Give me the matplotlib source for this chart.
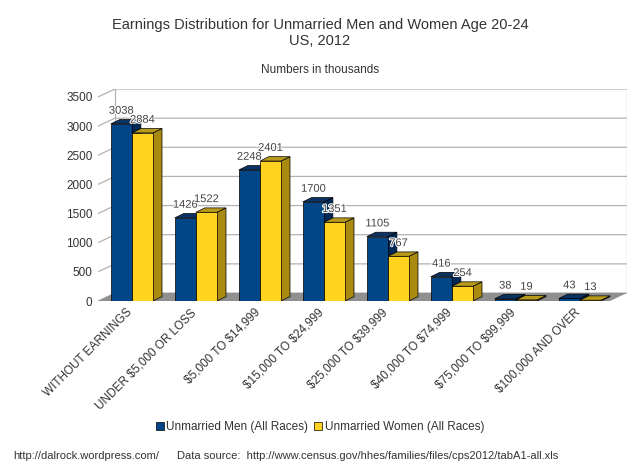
import matplotlib.pyplot as plt
import matplotlib.patheffects as pe
from matplotlib.patches import Polygon
import numpy as np

plt.rcParams['font.family'] = ['Liberation Sans', 'DejaVu Sans']
plt.rcParams['text.parse_math'] = False

categories = ['WITHOUT EARNINGS', 'UNDER $5,000 OR LOSS', '$5,000 TO $14,999',
              '$15,000 TO $24,999', '$25,000 TO $39,999', '$40,000 TO $74,999',
              '$75,000 TO $99,999', '$100,000 AND OVER']
men = [3038, 1426, 2248, 1700, 1105, 416, 38, 43]
women = [2884, 1522, 2401, 1351, 767, 254, 19, 13]
yticks = [0, 500, 1000, 1500, 2000, 2500, 3000, 3500]

# colours (front, top, side)
blue = ('#004586', '#0a3363', '#002a55')
yellow = ('#ffd320', '#b89a1a', '#a88a10')

fig = plt.figure(figsize=(6.4, 4.66), dpi=100)
ax = fig.add_axes([98 / 640, 1 - 301 / 466, 529 / 640, 212 / 466])

n = len(categories)
DX, DY = 17 / 64, 137          # depth of the back wall (data units)
bdx, bdy = 0.14, 75            # depth of each bar
w = 0.33
x = np.arange(n)

ax.set_xlim(0, n + DX)
ax.set_ylim(0, 3500 + DY)

# floor
ax.add_patch(Polygon([(0, 0), (n, 0), (n + DX, DY), (DX, DY)],
                     closed=True, fc='#8f8f8f', ec='none', zorder=1))
# left wall + back wall grid
for v in yticks:
    ax.plot([0, DX, n + DX], [v, v + DY, v + DY], color='#b3b3b3', lw=0.9, zorder=0.5)
ax.plot([DX, DX], [DY, 3500 + DY], color='#b3b3b3', lw=0.9, zorder=0.5)
ax.plot([n + DX, n + DX], [DY, 3500 + DY], color='#b3b3b3', lw=0.9, zorder=0.5)


def bars3d(x0s, vals, cols, z):
    for x0, h in zip(x0s, vals):
        top = [(x0, h), (x0 + w, h), (x0 + w + bdx, h + bdy), (x0 + bdx, h + bdy)]
        side = [(x0 + w, 0), (x0 + w + bdx, bdy), (x0 + w + bdx, h + bdy), (x0 + w, h)]
        ax.add_patch(Polygon(side, closed=True, fc=cols[2], ec='black', lw=0.5, zorder=z))
        ax.add_patch(Polygon(top, closed=True, fc=cols[1], ec='black', lw=0.5, zorder=z))
    return ax.bar(x0s, vals, width=w, align='edge', color=cols[0],
                  edgecolor='black', linewidth=0.5, zorder=z + 0.1)


xm = x + 0.2
xw = xm + w
b1 = bars3d(xm, men, blue, 3)
b2 = bars3d(xw, women, yellow, 4)

halo = [pe.withStroke(linewidth=1.5, foreground='white')]
for xs, vals in ((xm, men), (xw, women)):
    for x0, h in zip(xs, vals):
        ax.annotate(str(h), (x0 + w / 2, h), xytext=(0, 9.5), textcoords='offset points',
                    ha='center', va='center', fontsize=8, color='#444444',
                    path_effects=halo, zorder=6)

ax.set_yticks(yticks)
ax.set_yticklabels([str(v) for v in yticks], fontsize=8.5, color='#333333')
ax.set_xticks(x + 0.5)
ax.set_xticklabels(categories, rotation=45, ha='right', va='center',
                   rotation_mode='anchor', fontsize=8.5, color='#333333')
ax.tick_params(axis='both', length=0)
ax.tick_params(axis='y', pad=4)
ax.tick_params(axis='x', pad=7)
for s in ax.spines.values():
    s.set_visible(False)

fig.text(0.5, 1 - 33 / 466, 'Earnings Distribution for Unmarried Men and Women Age 20-24\nUS, 2012',
         ha='center', va='center', fontsize=10.5, color='#333333', linespacing=1.1)
fig.text(0.5, 1 - 70 / 466, 'Numbers in thousands', ha='center', va='center',
         fontsize=8.5, color='#333333')

handles = [plt.Rectangle((0, 0), 1, 1, fc=blue[0], ec='black', lw=0.5),
           plt.Rectangle((0, 0), 1, 1, fc=yellow[0], ec='black', lw=0.5)]
fig.legend(handles, ['Unmarried Men (All Races)', 'Unmarried Women (All Races)'],
           loc='center', bbox_to_anchor=(320 / 640, 1 - 427 / 466), ncol=2,
           frameon=False, fontsize=8.5, handlelength=0.7, handleheight=0.7,
           handletextpad=0.2, columnspacing=0.5, labelcolor='#333333')

fig.text(13 / 640, 1 - 456 / 466, 'http://dalrock.wordpress.com/', ha='left', va='center',
         fontsize=8, color='#333333')
fig.text(177 / 640, 1 - 456 / 466,
         'Data source:  http://www.census.gov/hhes/families/files/cps2012/tabA1-all.xls',
         ha='left', va='center', fontsize=8, color='#333333')

fig.savefig('out.png', dpi=100)
